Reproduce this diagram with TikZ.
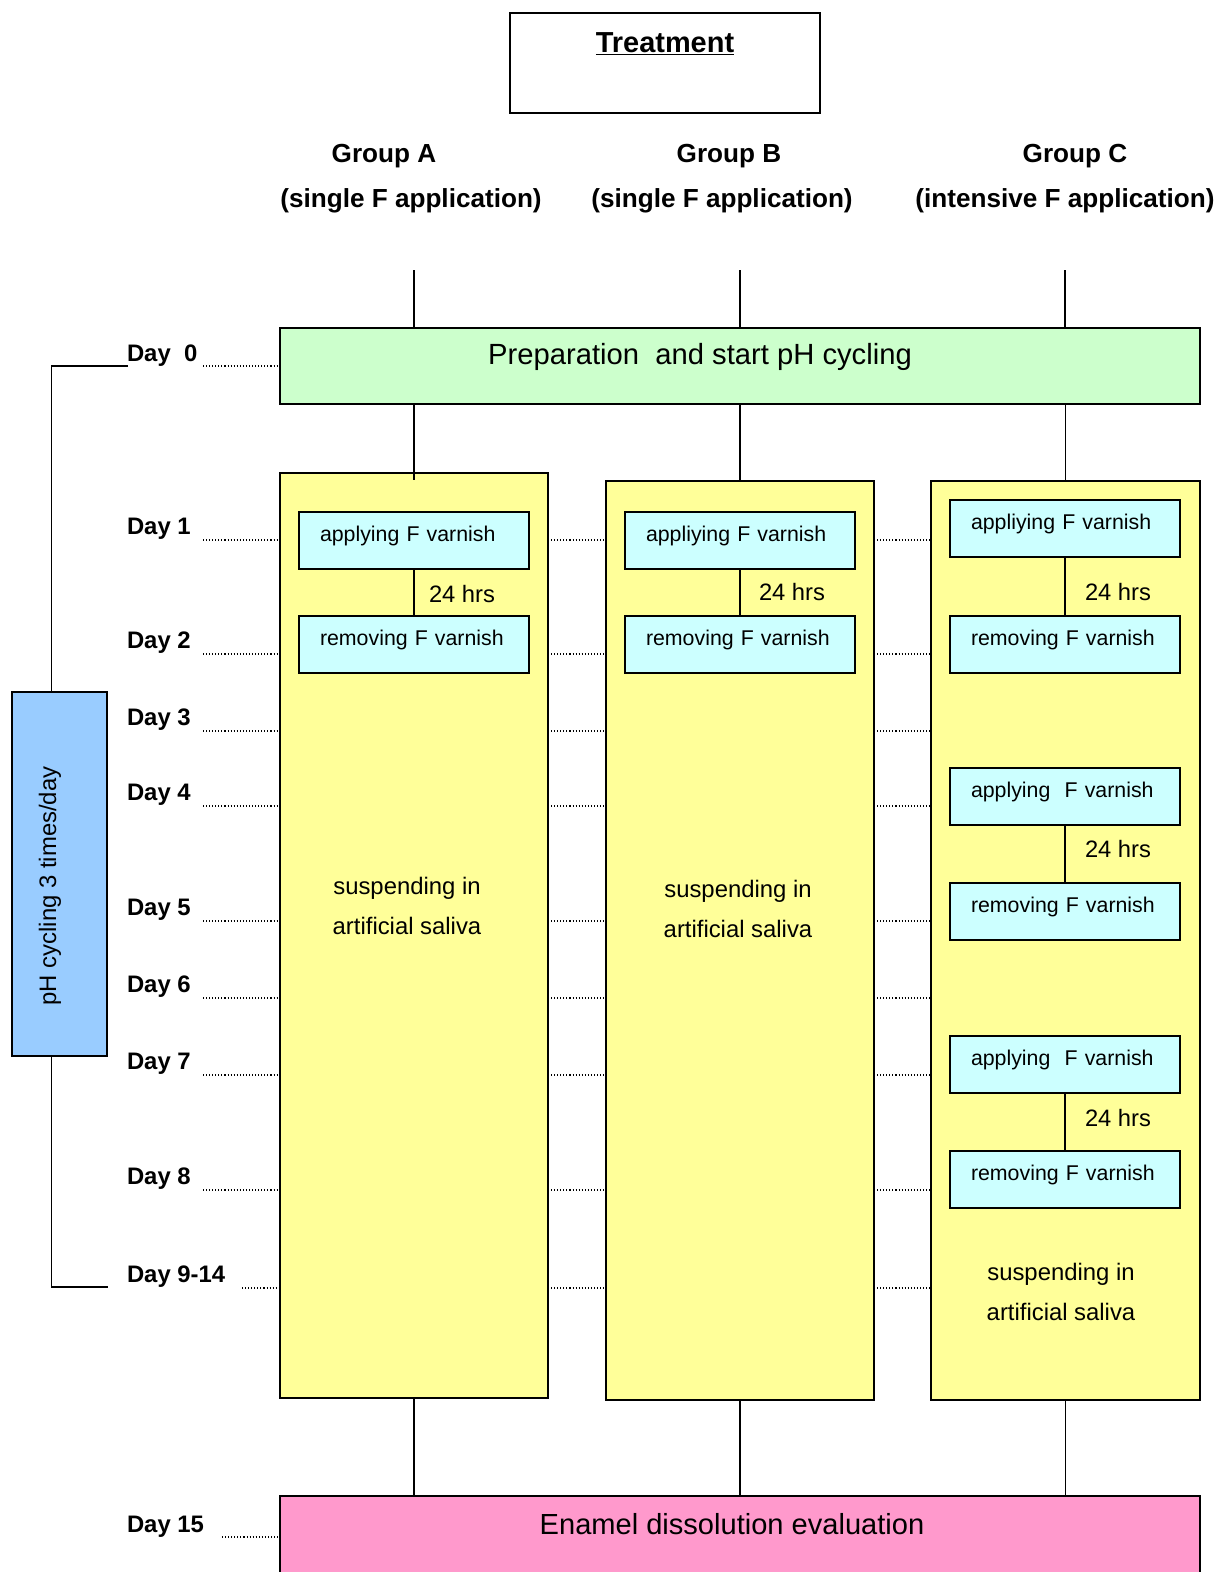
\documentclass[tikz,border=0pt]{standalone}
\usepackage{fontspec}
\setmainfont{Liberation Sans}
\usetikzlibrary{positioning}

\definecolor{prepgreen}{RGB}{204,255,204}
\definecolor{salivayellow}{RGB}{255,255,153}
\definecolor{varnishcyan}{RGB}{204,255,255}
\definecolor{evalpink}{RGB}{255,153,204}
\definecolor{cycleblue}{RGB}{153,204,255}

\tikzset{
  every node/.style={inner sep=0pt, outer sep=0pt},
  wh/.style 2 args={minimum width=#1*0.75pt, minimum height=#2*0.75pt},
  stagebox/.style={draw, line width=1.2pt, anchor=north west},
  varnishbox/.style={stagebox, fill=varnishcyan, wh={230}{57}, align=left,
    text width=188*0.75pt, inner xsep=21*0.75pt, text height=0.75em, text depth=0.55em,
    font=\fontsize{16}{18}\selectfont},
  hrslabel/.style={anchor=base west, font=\fontsize{17.8}{20}\selectfont},
  salivatext/.style={align=center, font=\fontsize{17.9}{30}\selectfont},
  grouplabel/.style={anchor=base, font=\fontsize{19.6}{22}\selectfont\bfseries},
  daylabel/.style={anchor=base west, font=\fontsize{17.9}{20}\selectfont\bfseries},
  daydots/.style={line width=0.9pt, dash pattern=on 0.8pt off 1.5pt},
  link/.style={line width=1.2pt}
}

\begin{document}
\begin{tikzpicture}[x=0.75pt,y=0.75pt,yscale=-1,xscale=1]
\useasboundingbox (0,0) rectangle (1224,1572);

% Treatment header
\node[stagebox, wh={310}{100}] (treat) at (510,13) {};
\node[anchor=base, font=\fontsize{21.7}{24}\selectfont\bfseries] (treattxt) at (665,52) {\underline{Treatment}};

% groups
\node[grouplabel] (grpA) at (384,162) {Group A};
\node[grouplabel] (grpAsub) at (411,207) {(single F application)};
\node[grouplabel] (grpB) at (729,162) {Group B};
\node[grouplabel] (grpBsub) at (722,207) {(single F application)};
\node[grouplabel] (grpC) at (1075,162) {Group C};
\node[grouplabel] (grpCsub) at (1065,207) {(intensive F application)};

\coordinate (topA) at (414,270);
\coordinate (topB) at (740,270);
\coordinate (topC) at (1065,270);

% preparation
\node[stagebox, fill=prepgreen, wh={920}{76}] (prep) at (280,328) {};
\node[anchor=base, font=\fontsize{21.9}{24}\selectfont] (preptxt) at (700,364) {Preparation\ \ and start pH cycling};

% yellow columns
\node[stagebox, fill=salivayellow, wh={268}{925}] (yA) at (280,473) {};
\node[stagebox, fill=salivayellow, wh={268}{919}] (yB) at (606,481) {};
\node[stagebox, fill=salivayellow, wh={269}{919}] (yC) at (931,481) {};

\draw[link] (topA) -- (topA |- prep.north);
\draw[link] (topB) -- (topB |- prep.north);
\draw[link] (topC) -- (topC |- prep.north);
\draw[link] (yA.north |- prep.south) -- ([yshift=5.25pt]yA.north);
\draw[link] (yB.north |- prep.south) -- (yB.north);
\draw[link] (yC.north |- prep.south) -- (yC.north);

% varnish boxes
\node[varnishbox] (aA1) at (299,512) {applying F varnish};
\node[varnishbox] (rA1) at (299,616) {removing F varnish};
\node[varnishbox] (aB1) at (625,512) {appliying F varnish};
\node[varnishbox] (rB1) at (625,616) {removing F varnish};
\node[varnishbox] (aC1) at (950,500) {appliying F varnish};
\node[varnishbox] (rC1) at (950,616) {removing F varnish};
\node[varnishbox] (aC2) at (950,768) {applying\ \ F varnish};
\node[varnishbox] (rC2) at (950,883) {removing F varnish};
\node[varnishbox] (aC3) at (950,1036) {applying\ \ F varnish};
\node[varnishbox] (rC3) at (950,1151) {removing F varnish};

\draw[link] (aA1) -- (rA1);
\draw[link] (aB1) -- (rB1);
\draw[link] (aC1) -- (rC1);
\draw[link] (aC2) -- (rC2);
\draw[link] (aC3) -- (rC3);

\node[hrslabel] (hA1) at (429,602) {24 hrs};
\node[hrslabel] (hB1) at (759,600) {24 hrs};
\node[hrslabel] (hC1) at (1085,600) {24 hrs};
\node[hrslabel] (hC2) at (1085,857) {24 hrs};
\node[hrslabel] (hC3) at (1085,1126) {24 hrs};

\node[salivatext] (salA) at (407,906) {suspending in\\artificial saliva};
\node[salivatext] (salB) at (738,909) {suspending in\\artificial saliva};
\node[salivatext] (salC) at (1061,1292) {suspending in\\artificial saliva};

% evaluation
\node[stagebox, fill=evalpink, wh={920}{90}] (evalbox) at (280,1496) {};
\node[anchor=base, font=\fontsize{21.8}{24}\selectfont] (evaltxt) at (732,1534) {Enamel dissolution evaluation};
\draw[link] (yA.south) -- (yA.south |- evalbox.north);
\draw[link] (yB.south) -- (yB.south |- evalbox.north);
\draw[link] (yC.south) -- (yC.south |- evalbox.north);

% day scale
\node[daylabel] (day0) at (127,361) {Day\ \ 0};
\draw[daydots] (203,366) -- (prep.west |- 0,366);
\foreach \dy/\dtxt/\dn/\dx in {540/1/1/203, 654/2/2/203, 731/3/3/203, 806/4/4/203,
    921/5/5/203, 998/6/6/203, 1075/7/7/203, 1190/8/8/203, 1288/9-14/9/242}{
  \node[daylabel] (day\dn) at (127,\dy-6) {Day \dtxt};
  \draw[daydots] (\dx,\dy) -- (yA.west |- 0,\dy);
  \draw[daydots] (yA.east |- 0,\dy) -- (yB.west |- 0,\dy);
  \draw[daydots] (yB.east |- 0,\dy) -- (yC.west |- 0,\dy);
}
\node[daylabel] (day15) at (127,1532) {Day 15};
\draw[daydots] (222,1537) -- (evalbox.west |- 0,1537);

% pH cycling bracket
\node[stagebox, fill=cycleblue, wh={95}{364}] (cycle) at (12,692) {};
\node[rotate=90, font=\fontsize{17.9}{20}\selectfont] (cycletxt) at (50,886) {pH cycling 3 times/day};
\coordinate (brtop) at (128,366);
\coordinate (brbot) at (108,1287);
\draw[link] (brtop) -| ([xshift=-6pt]cycle.north);
\draw[link] ([xshift=-6pt]cycle.south) |- (brbot);

\end{tikzpicture}
\end{document}
